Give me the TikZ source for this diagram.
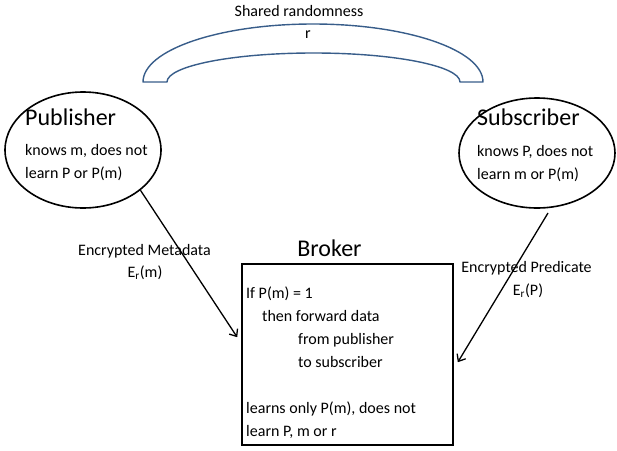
\documentclass[tikz,border=0pt]{standalone}
\usepackage{fontspec}
\setmainfont{Carlito}
\usetikzlibrary{arrows.meta,shapes.geometric,calc}
\definecolor{arcblue}{RGB}{56,93,138}
\begin{document}
\begin{tikzpicture}[x=1pt,y=-1pt,
  party/.style={draw, ellipse, line width=1.6pt, inner sep=0pt},
  brokerbox/.style={draw, rectangle, line width=1.6pt, inner sep=0pt},
  title/.style={font=\fontsize{24}{28}\selectfont, inner sep=0pt, anchor=base west},
  body/.style={font=\fontsize{16}{19}\selectfont, inner sep=0pt, anchor=base west},
  caption/.style={font=\fontsize{16}{19}\selectfont, inner sep=0pt, anchor=base},
  flow/.style={line width=1.3pt, -{Straight Barb[length=6pt,width=10pt]}}]
\useasboundingbox (0,0) rectangle (617,450);

% shared randomness band
\draw[arcblue, line width=1.4pt, fill=white, line join=round]
  (143,82) arc[start angle=180, end angle=360, x radius=170, y radius=58]
  -- (460,82) arc[start angle=0, end angle=-180, x radius=146.5, y radius=29]
  -- cycle;
\node[caption] (shared) at (299,16) {Shared randomness};
\node[caption] (rnd) at (308,38) {r};

% publisher
\node[party, minimum width=156pt, minimum height=116pt] (pub) at (83,150) {};
\node[title] (pubt) at (25,125) {Publisher};
\node[body] (pub1) at (25,155) {knows m, does not};
\node[body] (pub2) at (25,178) {learn P or P(m)};

% subscriber
\node[party, minimum width=156pt, minimum height=110pt] (sub) at (537,153) {};
\node[title] (subt) at (477,125) {Subscriber};
\node[body] (sub1) at (477,156) {knows P, does not};
\node[body] (sub2) at (477,179) {learn m or P(m)};

% broker
\node[brokerbox, minimum width=211pt, minimum height=181pt] (brk) at (347.5,354.5) {};
\node[font=\fontsize{24}{28}\selectfont, inner sep=0pt, anchor=base] (brkt) at (329.5,256) {Broker};
\node[body] (b1) at (246,298) {If P(m) = 1};
\node[body] (b2) at (262,321) {then forward data};
\node[body] (b3) at (298,344) {from publisher};
\node[body] (b4) at (298,367) {to subscriber};
\node[body] (b5) at (246,413) {learns only P(m), does not};
\node[body] (b6) at (246,436) {learn P, m or r};

% messages
\coordinate (subout) at (548,213);
\draw[flow] (pub.-35) -- ($(brk.north west)+(-4,74)$);
\draw[flow] (subout) -- ($(brk.north east)+(4,99)$);

\node[caption] (meta) at (144.5,255) {Encrypted Metadata};
\node[caption] (metae) at (145,277) {E\textsubscript{r}(m)};
\node[caption] (pred) at (526.5,272) {Encrypted Predicate};
\node[caption] (prede) at (528,295) {E\textsubscript{r}(P)};
\end{tikzpicture}
\end{document}
